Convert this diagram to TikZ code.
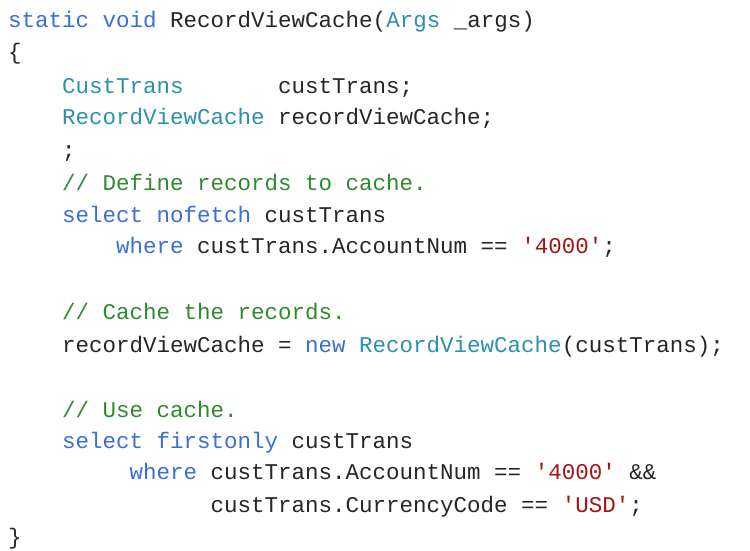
\documentclass[tikz,border=0pt]{standalone}
\usepackage{fontspec}
\setmonofont{Liberation Mono}
\definecolor{kw}{HTML}{3A6FD8}
\definecolor{ty}{HTML}{2B91AF}
\definecolor{cm}{HTML}{2E8B2E}
\definecolor{st}{HTML}{A31515}
\newcommand\kw[1]{\textcolor{kw}{#1}}
\newcommand\ty[1]{\textcolor{ty}{#1}}
\newcommand\cm[1]{\textcolor{cm}{#1}}
\newcommand\st[1]{\textcolor{st}{#1}}
\newcommand\cl[3]{\node[codeline] at ({8+#1*13.5},{#2+7}) {#3};}
\begin{document}
\begin{tikzpicture}[x=1pt,y=-1pt,
  codeline/.style={anchor=base west,inner sep=0,font=\ttfamily\fontsize{22.5}{26}\selectfont,text=black!85}]
\useasboundingbox[fill=white] (0,0) rectangle (750,550);
\cl{0}{20}{\kw{static void} RecordViewCache(\ty{Args} \_args)}
\cl{0}{52}{\{}
\cl{4}{86}{\ty{CustTrans}}
\cl{20}{86}{custTrans;}
\cl{4}{117}{\ty{RecordViewCache} recordViewCache;}
\cl{4}{150}{;}
\cl{4}{183}{\cm{// Define records to cache.}}
\cl{4}{215}{\kw{select nofetch} custTrans}
\cl{8}{246}{\kw{where} custTrans.AccountNum == \st{'4000'};}
\cl{4}{312}{\cm{// Cache the records.}}
\cl{4}{345}{recordViewCache = \kw{new} \ty{RecordViewCache}(custTrans);}
\cl{4}{410}{\cm{// Use cache.}}
\cl{4}{441}{\kw{select firstonly} custTrans}
\cl{9}{472}{\kw{where} custTrans.AccountNum == \st{'4000'} \&\&}
\cl{15}{505}{custTrans.CurrencyCode == \st{'USD'};}
\cl{0}{537}{\}}
\end{tikzpicture}
\end{document}
